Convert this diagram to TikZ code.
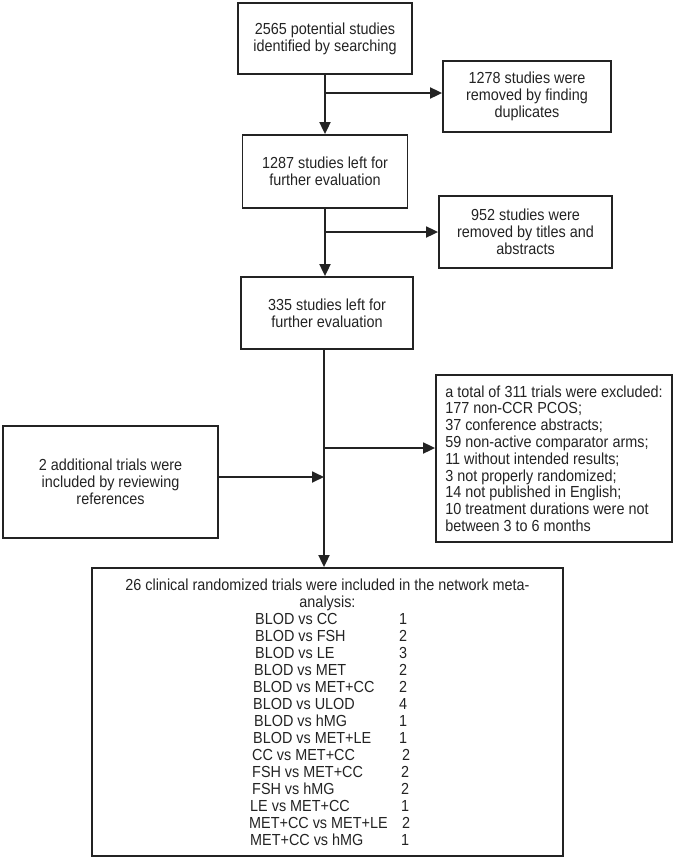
\documentclass[tikz,border=0pt]{standalone}
\usepackage{fontspec}
\setmainfont[FakeStretch=0.9]{Liberation Sans}
\usetikzlibrary{arrows.meta,calc}
\definecolor{ink}{RGB}{35,35,35}
\begin{document}
\begin{tikzpicture}[x=1pt,y=-1pt,
  box/.style={draw=ink,line width=1.8pt,align=center,inner sep=0pt,text=ink,
    font=\fontsize{16}{16.8}\selectfont},
  txt/.style={inner sep=0pt,text=ink,font=\fontsize{16}{17}\selectfont},
  arr/.style={draw=ink,line width=1.8pt,-{Triangle[length=12pt,width=11pt]}},
  ln/.style={draw=ink,line width=1.8pt}]
\useasboundingbox (0,0) rectangle (675,860);
\node[box,minimum width=174pt,minimum height=71pt] (b1) at (325,38.5)
  {2565 potential studies\\identified by searching};
\node[box,minimum width=168pt,minimum height=71pt] (b2) at (527,96.5)
  {1278 studies were\\removed by finding\\duplicates};
\node[box,minimum width=165pt,minimum height=73pt] (b3) at (325,171.5)
  {1287 studies left for\\further evaluation};
\node[box,minimum width=173pt,minimum height=72pt] (b4) at (525.5,232)
  {952 studies were\\removed by titles and\\abstracts};
\node[box,minimum width=172pt,minimum height=72pt] (b5) at (327,313)
  {335 studies left for\\further evaluation};
\node[box,align=left,minimum width=236pt,minimum height=167pt] (ex) at (554,458.5)
  {a total of 311 trials were excluded:\\177 non-CCR PCOS;\\37 conference abstracts;\\59 non-active comparator arms;\\11 without intended results;\\3 not properly randomized;\\14 not published in English;\\10 treatment durations were not\\between 3 to 6 months};
\node[box,minimum width=215pt,minimum height=112pt] (add) at (110.5,482)
  {2 additional trials were\\included by reviewing\\references};
\node[box,minimum width=471pt,minimum height=288pt] (fin) at (327.5,712) {};
\node[txt,anchor=north] (head) at (327.5,578.1)
  {\begin{tabular}{@{}c@{}}26 clinical randomized trials were included in the network meta-\\analysis:\end{tabular}};
\node[txt,anchor=north west] (list) at (252,612.1)
  {\begin{tabular}{@{}p{144pt}@{}c@{}}
  \hspace{3pt}BLOD vs CC & 1\\
  \hspace{3pt}BLOD vs FSH & 2\\
  \hspace{3pt}BLOD vs LE & 3\\
  \hspace{2pt}BLOD vs MET & 2\\
  \hspace{1pt}BLOD vs MET+CC & 2\\
  \hspace{1pt}BLOD vs ULOD & 4\\
  \hspace{2pt}BLOD vs hMG & 1\\
  \hspace{1pt}BLOD vs MET+LE & 1\\
  CC vs MET+CC & \hspace{6pt}2\\
  FSH vs MET+CC & \hspace{4pt}2\\
  FSH vs hMG & \hspace{4pt}2\\
  \hspace{-2pt}LE vs MET+CC & \hspace{4pt}1\\
  \hspace{-3pt}MET+CC vs MET+LE & \hspace{6pt}2\\
  \hspace{-2pt}MET+CC vs hMG & \hspace{4pt}1
  \end{tabular}};
\coordinate (j1) at (325,93);
\coordinate (j2) at (325,232);
\coordinate (j3) at (324,448);
\coordinate (j4) at (324,477);
\draw[arr] (b1.south) -- (b1.south |- b3.north);
\draw[arr] (j1) -- (j1 -| b2.west);
\draw[arr] (b3.south) -- (b3.south |- b5.north);
\draw[arr] (j2) -- (j2 -| b4.west);
\draw[arr] (j3 |- b5.south) -- (j3 |- fin.north);
\draw[arr] (j3) -- (j3 -| ex.west);
\draw[arr] (add.east |- j4) -- (j4);
\end{tikzpicture}
\end{document}
